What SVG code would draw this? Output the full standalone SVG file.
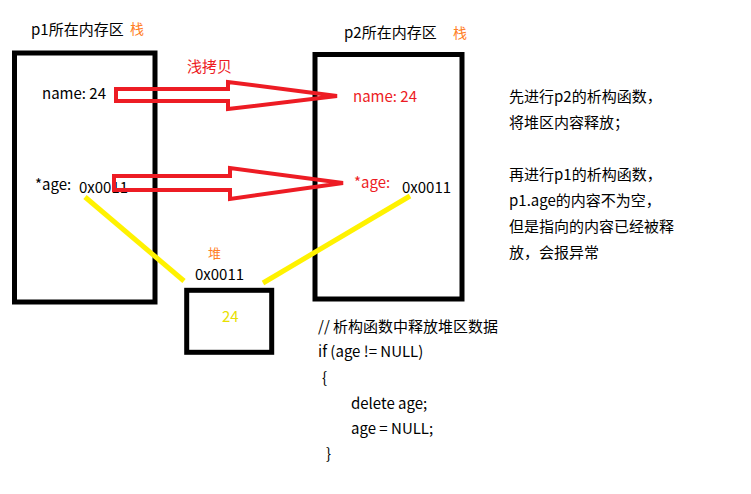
<svg xmlns="http://www.w3.org/2000/svg" width="751" height="494" viewBox="0 0 751 494">
<style>
text{font-family:"Noto Sans CJK SC","Liberation Sans",sans-serif;font-size:15px;fill:#000}
.or{fill:#FF7F27;font-size:14px}
.rd{fill:#ED1C24}
.yl{fill:#E8E000}
.box{fill:none;stroke:#000;stroke-width:5}
.arr{fill:none;stroke:#ED1C24;stroke-width:4;stroke-linejoin:miter}
.ptr{stroke:#FFF200;stroke-width:5;fill:none}
</style>
<rect width="751" height="494" fill="#fff"/>
<g id="p1">
<rect class="box" x="14.5" y="53" width="140.5" height="249"/>
<text x="31" y="35">p1所在内存区</text>
<text class="or" x="130" y="34">栈</text>
<text x="42" y="99">name: 24</text>
<text x="35" y="190">*age:</text>
<text x="79" y="193">0x0011</text>
</g>
<g id="p2">
<rect class="box" x="315" y="54.5" width="147" height="244.5"/>
<text x="344" y="38">p2所在内存区</text>
<text class="or" x="453" y="38">栈</text>
<text class="rd" x="353" y="102">name: 24</text>
<text class="rd" x="354" y="188">*age:</text>
<text x="402" y="193">0x0011</text>
</g>
<g id="heap">
<rect class="box" x="186.7" y="290.3" width="85" height="62"/>
<text class="or" x="208" y="258" style="font-size:13px">堆</text>
<text x="195" y="280">0x0011</text>
<text class="yl" x="222" y="322">24</text>
</g>
<g id="connectors">
<text class="rd" x="187" y="72">浅拷贝</text>
<polygon class="arr" points="116,89 228,89 228,82 337,96 228,109 228,101 116,101"/>
<polygon class="arr" points="114,176 230,176 230,168 343,183 230,199 230,190 114,190"/>
<line class="ptr" x1="85" y1="197" x2="184" y2="281"/>
<line class="ptr" x1="410" y1="196" x2="263" y2="283"/>
</g>
<g id="notes">
<text x="509" y="102">先进行p2的析构函数，</text>
<text x="509" y="128">将堆区内容释放；</text>
<text x="509" y="180">再进行p1的析构函数，</text>
<text x="509" y="206">p1.age的内容不为空，</text>
<text x="509" y="232">但是指向的内容已经被释</text>
<text x="509" y="258">放，会报异常</text>
</g>
<g id="code">
<text x="318" y="332">// 析构函数中释放堆区数据</text>
<text x="318" y="357">if (age != NULL)</text>
<text x="322" y="383">{</text>
<text x="351" y="409">delete age;</text>
<text x="351" y="434">age = NULL;</text>
<text x="326" y="459">}</text>
</g>
</svg>
